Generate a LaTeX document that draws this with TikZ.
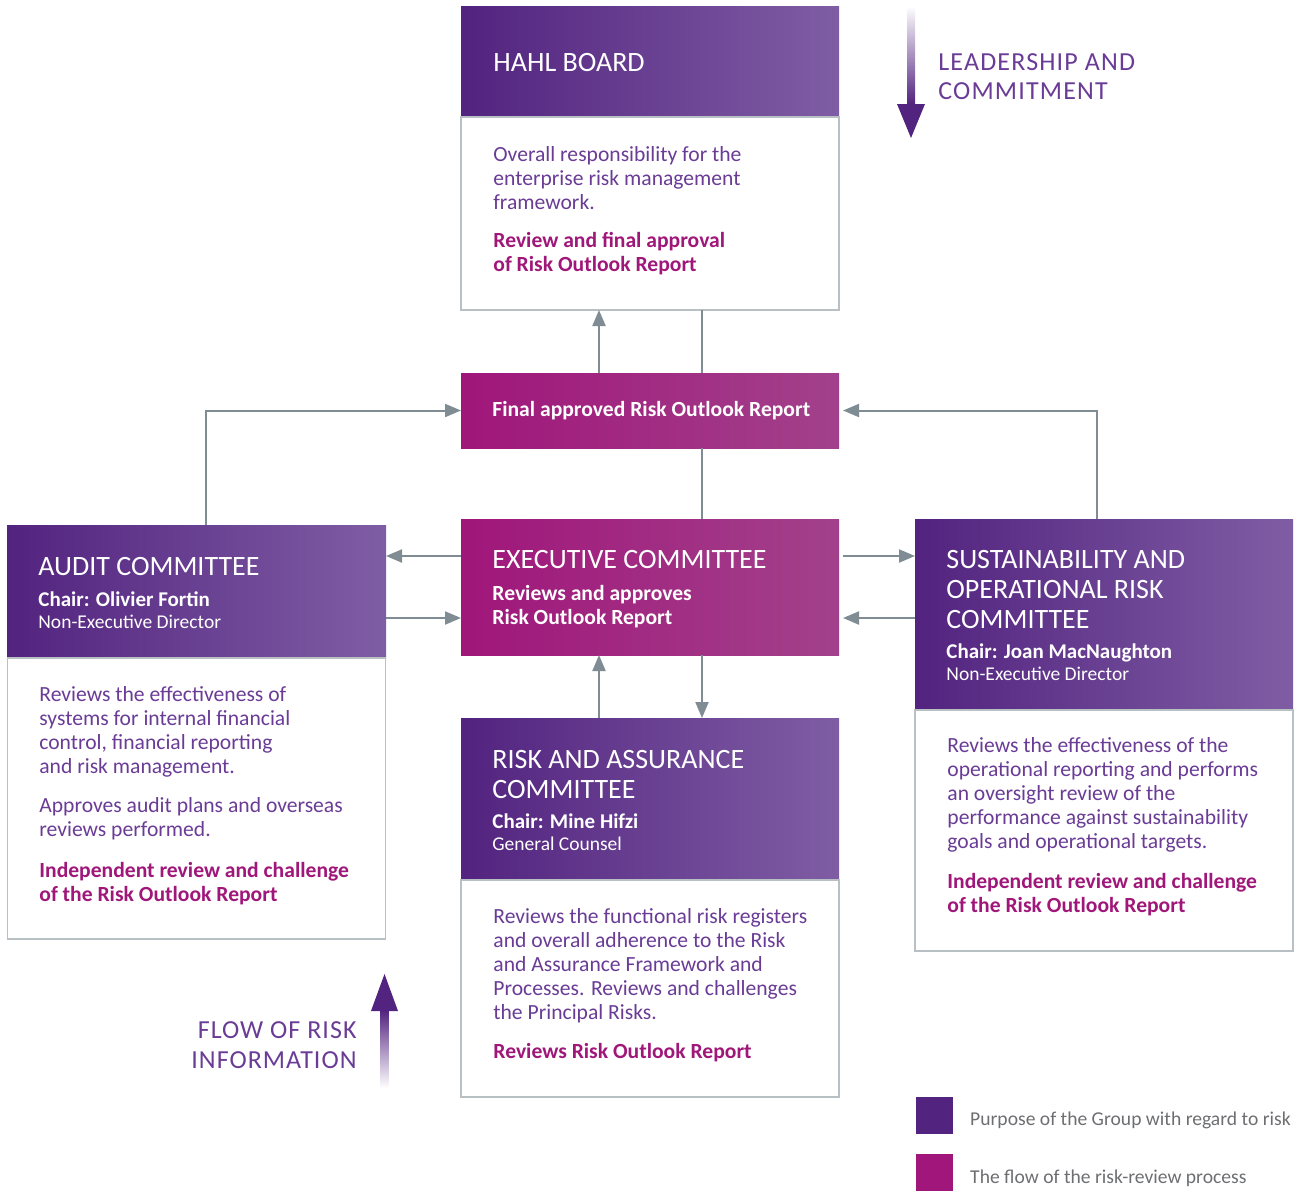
\documentclass[tikz,border=0pt]{standalone}
\usepackage{fontspec}
\setmainfont{Carlito}
\usepackage{xcolor}
\usepackage{tikz}
\usetikzlibrary{positioning}
\usetikzlibrary{arrows.meta}
\definecolor{purpled}{HTML}{52237F}
\definecolor{purplel}{HTML}{7F5DA4}
\definecolor{magd}{HTML}{A0167A}
\definecolor{magl}{HTML}{A2418B}
\definecolor{txtpurple}{HTML}{6A3C96}
\definecolor{txtmag}{HTML}{A0177A}
\definecolor{linegray}{HTML}{7F8C93}
\definecolor{boxgray}{HTML}{B9C0C4}
\definecolor{leggray}{HTML}{6D6E71}
\newcommand\headfont{\fontsize{28}{30}\selectfont}
\newcommand\bodyfont{\fontsize{21.6}{24}\selectfont}
\newcommand\chairfont{\fontsize{19.5}{22}\selectfont}
\newcommand\chairbold{\fontsize{21}{22}\selectfont\bfseries}
\newcommand\sidefont{\fontsize{26}{29}\selectfont}
\tikzset{
    headbox/.style = {rectangle, anchor=north west, inner sep=0pt, outer sep=0pt, left color=purpled, right color=purplel, minimum width=378pt},
    flowbox/.style = {rectangle, anchor=north west, inner sep=0pt, outer sep=0pt, left color=magd, right color=magl, minimum width=378pt},
    bodybox/.style = {rectangle, anchor=north west, inner sep=0pt, outer sep=0pt, draw=boxgray, line width=1.2pt, fill=white, minimum width=378pt},
    headtext/.style = {anchor=west, align=left, inner sep=0pt, text=white, font=\headfont},
    chairtext/.style = {anchor=west, align=left, inner sep=0pt, text=white, font=\chairfont},
    bodytext/.style = {anchor=west, align=left, inner sep=0pt, text=txtpurple, font=\bodyfont},
    boldtext/.style = {anchor=west, align=left, inner sep=0pt, text=txtmag, font=\bodyfont\bfseries},
}

\begin{document}
\begin{tikzpicture}[
	x=1pt, y=-1pt,
	thick
]
\tikzset{
    edgen/.style = {-, line width=2pt, linegray},
    edgea/.style = {-{Triangle[length=16pt,width=13pt]}, line width=2pt, linegray},
}
\useasboundingbox (0,0) rectangle (1303,1191);
% boxes
\node[headbox, minimum height=111pt] at (461,6) (board) {};
\node[bodybox, minimum height=193pt] at (461,117) (boardbody) {};
\node[flowbox, minimum height=75pt] at (461,373) (final) {};
\node[flowbox, minimum height=136pt] at (461,519) (exec) {};
\node[headbox, minimum height=133pt, minimum width=379pt] at (7,525) (audit) {};
\node[bodybox, minimum height=281pt] at (7.5,658) (auditbody) {};
\node[headbox, minimum height=191pt] at (915,519) (sust) {};
\node[bodybox, minimum height=241pt] at (915,710) (sustbody) {};
\node[headbox, minimum height=162pt] at (461,718) (risk) {};
\node[bodybox, minimum height=217pt] at (461,880) (riskbody) {};
% texts
\node[headtext] at (493,63) (boardt) {HAHL BOARD};
\node[bodytext] at (493,178) (boardb) {Overall responsibility for the\\enterprise risk management\\framework.};
\node[boldtext] at (493,254) (boardr) {Review and final approval\\of Risk Outlook Report};
\node[chairtext, font=\bodyfont\bfseries] at (492,411) (finalt) {Final approved Risk Outlook Report};
\node[headtext] at (492,560) (exect) {EXECUTIVE COMMITTEE};
\node[chairtext, font=\bodyfont\bfseries] at (492,607) (execs) {Reviews and approves\\Risk Outlook Report};
\node[headtext] at (38,567) (auditt) {AUDIT COMMITTEE};
\node[chairtext] at (38,610) (auditc) {{\chairbold Chair: Olivier Fortin}\\Non-Executive Director};
\node[bodytext] at (39,732) (auditb) {Reviews the effectiveness of\\systems for internal financial\\control, financial reporting\\and risk management.};
\node[bodytext] at (39,819) (audita) {Approves audit plans and overseas\\reviews performed.};
\node[boldtext] at (39,884) (auditr) {Independent review and challenge\\of the Risk Outlook Report};
\node[headtext] at (946,589.5) (sustt) {SUSTAINABILITY AND\\OPERATIONAL RISK\\COMMITTEE};
\node[chairtext] at (946,662) (sustc) {{\chairbold Chair: Joan MacNaughton}\\Non-Executive Director};
\node[bodytext] at (947,795) (sustb) {Reviews the effectiveness of the\\operational reporting and performs\\an oversight review of the\\performance against sustainability\\goals and operational targets.};
\node[boldtext] at (947,895) (sustr) {Independent review and challenge\\of the Risk Outlook Report};
\node[headtext] at (492,774) (riskt) {RISK AND ASSURANCE\\COMMITTEE};
\node[chairtext] at (492,832) (riskc) {{\chairbold Chair: Mine Hifzi}\\General Counsel};
\node[bodytext] at (493,966) (riskb) {Reviews the functional risk registers\\and overall adherence to the Risk\\and Assurance Framework and\\Processes. Reviews and challenges\\the Principal Risks.};
\node[boldtext] at (493,1053) (riskr) {Reviews Risk Outlook Report};
% connectors
\draw[edgea] ([xshift=-51pt]final.north) -- ([xshift=-51pt]boardbody.south);
\draw[edgen] ([xshift=52pt]boardbody.south) -- ([xshift=52pt]final.north);
\draw[edgen] ([xshift=52pt]final.south) -- ([xshift=52pt]exec.north);
\draw[edgea] ([xshift=9.5pt]audit.north) |- (final.west);
\draw[edgea] ([xshift=-7pt]sust.north) |- ([xshift=4pt]final.east);
\draw[edgea] ([yshift=31pt]exec.west) -- ([yshift=31pt]exec.west -| audit.east);
\draw[edgea] ([yshift=-31pt]exec.west -| audit.east) -- ([yshift=-31pt]exec.west);
\draw[edgea] ([xshift=4pt,yshift=31pt]exec.east) -- ([yshift=31pt]exec.east -| sust.west);
\draw[edgea] ([yshift=-31pt]exec.east -| sust.west) -- ([xshift=4pt,yshift=-31pt]exec.east);
\draw[edgea] ([xshift=-51pt]risk.north) -- ([xshift=-51pt]exec.south);
\draw[edgea] ([xshift=52pt]exec.south) -- ([xshift=52pt]risk.north);
% big arrows
\shade[top color=white, bottom color=purpled] (907,6) rectangle (915,104);
\fill[purpled] (897,104) -- (925,104) -- (911,138) -- cycle;
\node[anchor=west, align=left, inner sep=0pt, text=txtpurple, font=\sidefont\addfontfeature{LetterSpace=4.5}] at (938,76.5) (lead) {LEADERSHIP AND\\COMMITMENT};
\shade[top color=purpled, bottom color=white] (380.5,1010) rectangle (388.5,1088);
\fill[purpled] (371,1011) -- (398,1011) -- (384.5,974) -- cycle;
\node[anchor=east, align=right, inner sep=0pt, text=txtpurple, font=\fontsize{26}{30}\selectfont\addfontfeature{LetterSpace=4}] at (357,1045) (flow) {FLOW OF RISK\\INFORMATION};
% legend
\node[rectangle, anchor=north west, fill=purpled, minimum size=37pt, inner sep=0pt] at (916,1097) (legp) {};
\node[rectangle, anchor=north west, fill=magd, minimum size=37pt, inner sep=0pt] at (916,1154) (legm) {};
\node[right=16pt of legp, yshift=-4pt, inner sep=0pt, text=leggray, font=\fontsize{19.6}{24}\selectfont] (legpt) {Purpose of the Group with regard to risk};
\node[right=16pt of legm, yshift=-5pt, inner sep=0pt, text=leggray, font=\fontsize{19.6}{24}\selectfont] (legmt) {The flow of the risk-review process};
\end{tikzpicture}
\end{document}
